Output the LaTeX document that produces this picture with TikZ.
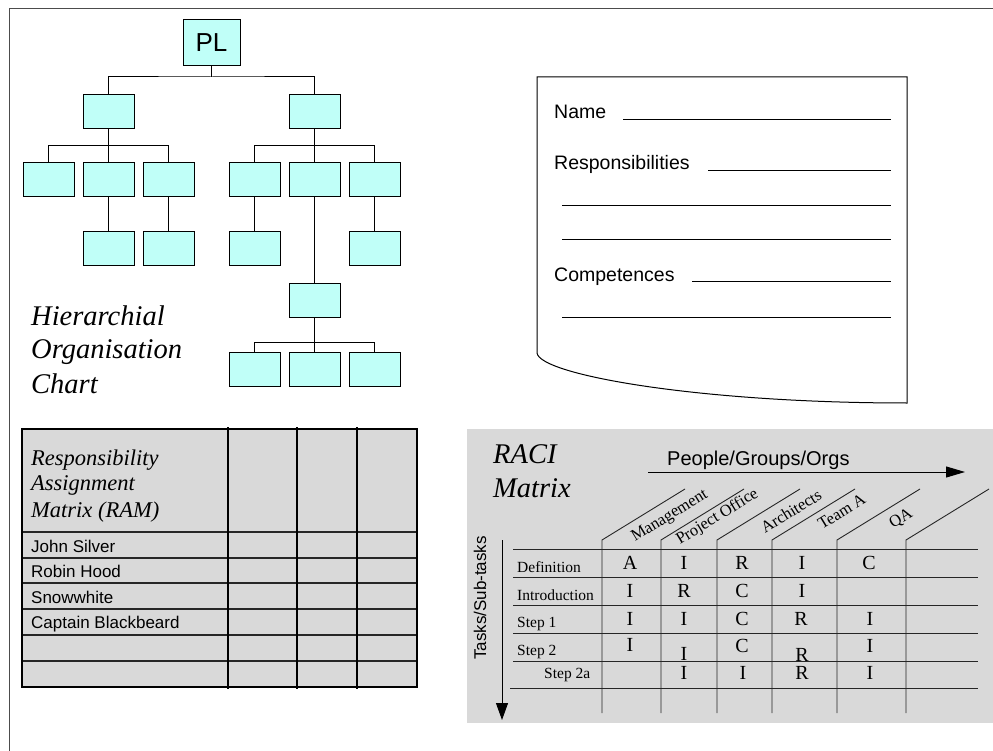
\documentclass[tikz,border=0pt]{standalone}
\usepackage{fontspec}
\setmainfont{Liberation Serif}
\setsansfont{Liberation Sans}
\usetikzlibrary{arrows.meta}

\definecolor{boxcyan}{RGB}{192,255,248}
\definecolor{panelgray}{RGB}{217,217,217}
\newcommand{\sfat}[1]{\sffamily\fontsize{#1}{#1}\selectfont}
\newcommand{\rmat}[1]{\rmfamily\fontsize{#1}{#1}\selectfont}

\begin{document}
\begin{tikzpicture}[x=1pt,y=-1pt,
    obox/.style={draw,fill=boxcyan,line width=1pt,minimum width=51pt,minimum height=34pt,inner sep=0pt},
    conn/.style={line width=1pt},
    lbl/.style={inner sep=0pt,anchor=base west},
    cell/.style={inner sep=0pt,anchor=base,font=\rmat{20}},
    grid/.style={line width=0.9pt,black!85}]
\useasboundingbox (0,0) rectangle (993,751);
\draw[black!70,line width=1pt] (9,751) -- (9,9) -- (993,9);

% organisation chart
\node[obox,minimum width=57pt,minimum height=46pt,font=\sfat{26}] (pl) at (211.5,43) {PL};
\node[obox] (la) at (108.5,112) {};
\node[obox] (lb) at (314.5,112) {};
\foreach \n/\x in {a/48.5,b/108.5,c/168.5,d/254.5,e/314.5,f/374.5}
    \node[obox] (m\n) at (\x,180) {};
\node[obox] (sb) at (108.5,249) {};
\node[obox] (sc) at (168.5,249) {};
\node[obox] (sd) at (254.5,249) {};
\node[obox] (sf) at (374.5,249) {};
\node[obox] (mid) at (314.5,300.5) {};
\foreach \n/\x in {d/254.5,e/314.5,f/374.5}
    \node[obox] (b\n) at (\x,369) {};

\coordinate (bus0) at (211.5,77);
\draw[conn] (pl.south) -- (bus0);
\draw[conn] (la.north) |- (bus0) -| (lb.north);
\draw[conn] (la.south) -- (mb.north);
\draw[conn] (ma.north) -- ++(0,-17) -| (mc.north);
\draw[conn] (lb.south) -- (me.north);
\draw[conn] (md.north) -- ++(0,-17) -| (mf.north);
\draw[conn] (mb.south) -- (sb.north);
\draw[conn] (mc.south) -- (sc.north);
\draw[conn] (md.south) -- (sd.north);
\draw[conn] (mf.south) -- (sf.north);
\draw[conn] (me.south) -- (mid.north);
\draw[conn] (mid.south) -- (be.north);
\draw[conn] (bd.north) -- ++(0,-9) -| (bf.north);

\node[lbl,font=\rmat{28.5}\itshape] (hier1) at (31,325) {Hierarchial};
\node[lbl,font=\rmat{28.5}\itshape] (hier2) at (31,358) {Organisation};
\node[lbl,font=\rmat{28.5}\itshape] (hier3) at (31,393) {Chart};

% role description sheet
\draw[line width=1pt] (537,353) -- (537,77) -- (907,77) -- (907,403)
    .. controls (700,403) and (540,375) .. (537,353);
\node[lbl,font=\sfat{19.5}] (name) at (554,119) {Name};
\node[lbl,font=\sfat{19.5}] (resp) at (554,170) {Responsibilities};
\node[lbl,font=\sfat{19.5}] (comp) at (554,282) {Competences};
\draw[line width=1pt] (623,120) -- (891,120);
\draw[line width=1pt] (708,171) -- (891,171);
\draw[line width=1pt] (562,206) -- (891,206);
\draw[line width=1pt] (562,240) -- (891,240);
\draw[line width=1pt] (692,282) -- (891,282);
\draw[line width=1pt] (562,317) -- (891,317);

% RAM
\fill[panelgray] (22,429) rectangle (417,687);
\foreach \y in {532,558,583,609,635,661}
    \draw[line width=1.5pt,black!85] (22,\y) -- (417,\y);
\foreach \x in {228,297,357}
    \draw[line width=1.5pt] (\x,427) -- (\x,689);
\draw[line width=1.5pt] (22,687) -- (22,429) -- (417,429) -- (417,687);
\draw[line width=2.5pt] (21,687) -- (418,687);
\node[lbl,font=\rmat{22.5}\itshape] (ram1) at (31,465) {Responsibility};
\node[lbl,font=\rmat{22.5}\itshape] (ram2) at (31,490) {Assignment};
\node[lbl,font=\rmat{22.5}\itshape] (ram3) at (31,517) {Matrix (RAM)};
\node[lbl,font=\sfat{17}] (john) at (31,552) {John Silver};
\node[lbl,font=\sfat{17}] (robin) at (31,577) {Robin Hood};
\node[lbl,font=\sfat{17}] (snow) at (31,603) {Snowwhite};
\node[lbl,font=\sfat{17}] (capt) at (31,628) {Captain Blackbeard};

% RACI
\fill[panelgray] (467,429) rectangle (993,723);
\node[lbl,font=\rmat{28.5}\itshape] (raci1) at (493,463) {RACI};
\node[lbl,font=\rmat{28.5}\itshape] (raci2) at (493,497) {Matrix};
\node[lbl,font=\sfat{20}] (people) at (667,465) {People/Groups/Orgs};
\coordinate (pstart) at (648,472);
\coordinate (pend) at (965,472);
\draw[line width=1pt,-{Triangle[length=19pt,width=11pt]}] (pstart) -- (pend);
\node[inner sep=0pt,rotate=90,font=\sfat{17}] (tasks) at (480,598) {Tasks/Sub-tasks};
\coordinate (tstart) at (502,540);
\coordinate (tend) at (502,720);
\draw[line width=1pt,-{Triangle[length=17pt,width=12pt]}] (tstart) -- (tend);

\foreach \y in {549,577,605,633,661}
    \draw[grid] (513,\y) -- (978,\y);
\draw[grid] (510,688) -- (978,688);
\foreach \x in {602,661,717,772,837,906}
    \draw[grid] (\x,713) -- (\x,540) -- ++(83,-51);

\foreach \t/\x/\y [count=\i] in {Management/635/542,Project Office/680/545,Architects/765/534,Team A/822/530,QA/893/529}
    \node[lbl,rotate=31.6,font=\rmat{16.5}] (col\i) at (\x,\y) {\t};
\node[lbl,font=\rmat{15.5}] (row1) at (517,572) {Definition};
\node[lbl,font=\rmat{15.5}] (row2) at (517,600) {Introduction};
\node[lbl,font=\rmat{15.5}] (row3) at (517,627) {Step 1};
\node[lbl,font=\rmat{15.5}] (row4) at (517,655) {Step 2};
\node[lbl,font=\rmat{15.5}] (row5) at (544,678) {Step 2a};

\foreach \t/\x/\y [count=\i] in {A/630/569,I/684/569,R/742/569,I/802/569,C/869/569,
    I/630/597,R/684/597,C/742/597,I/802/597,
    I/630/625,I/684/625,C/742/625,R/801/625,I/870/625,
    I/630/651,I/684/660,C/742/652,R/802/661,I/870/652,
    I/684/679,I/743/679,R/802/679,I/870/679}
    \node[cell] (c\i) at (\x,\y) {\t};
\end{tikzpicture}
\end{document}
